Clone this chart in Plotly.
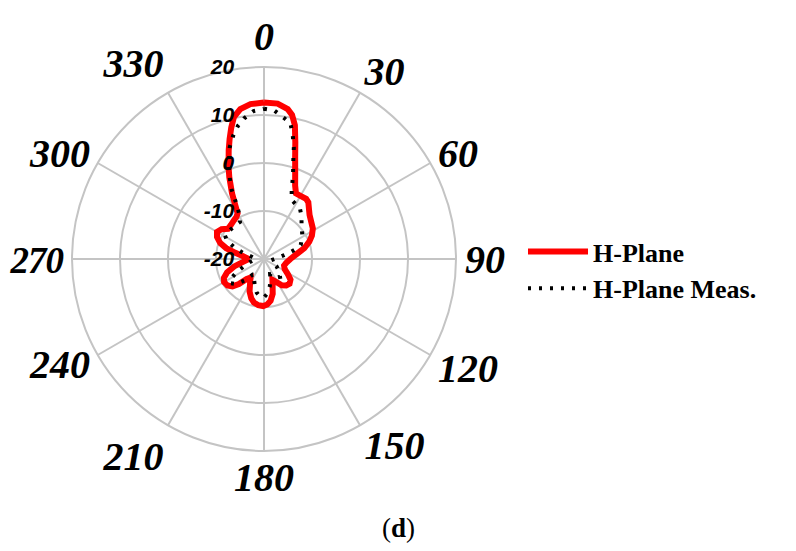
import plotly.graph_objects as go

# ---- data (dB vs angle in degrees, clockwise from top) ----
h_theta = [0, 5, 9, 11, 13, 15, 17, 20, 23, 26, 30, 35, 38, 42, 46, 52, 58, 64, 69, 75, 80,
           90, 100, 108, 116, 123, 128, 134, 140, 146, 152, 158, 162, 166, 171, 176, 181,
           187, 193, 198, 204, 210, 216, 221, 225, 229, 234, 240, 245, 250, 256, 262, 270,
           278, 283, 286, 290, 295, 300, 305, 310, 316, 322, 327, 330, 332, 334, 337, 339,
           342, 344, 346, 348, 351, 355, 360]
h_plane = [12.6, 12.5, 11.6, 10.6, 8.6, 5.2, 2.2, -1.0, -3.4, -4.8, -4.8, -4.7, -5.0, -6.0,
           -6.8, -7.5, -8.0, -8.9, -9.9, -11.3, -12.8, -14.5, -15.3, -15.6, -15.2, -14.0,
           -13.0, -12.6, -12.8, -13.4, -14.6, -15.3, -14.2, -12.5, -11.2, -10.5, -10.2,
           -10.3, -10.7, -11.4, -12.6, -14.2, -15.2, -14.5, -12.6, -11.3, -10.6, -10.4,
           -10.8, -11.8, -13.6, -15.6, -16.8, -15.5, -13.5, -11.8, -10.3, -9.2, -8.7,
           -9.2, -10.2, -10.1, -9.8, -9.5, -9.0, -7.2, -4.8, -1.5, 0.6, 3.8, 6.0, 8.2,
           10.2, 11.6, 12.4, 12.6]

m_theta = [0, 4, 8, 11, 13, 15, 17, 19, 22, 25, 30, 35, 41, 47, 53, 58, 63, 69, 73, 77, 81,
           90, 100, 110, 120, 130, 138, 145, 152, 158, 163, 168, 174, 180, 186, 192, 198,
           204, 210, 216, 222, 228, 234, 239, 244, 250, 258, 270, 280, 286, 291, 296, 301,
           308, 315, 322, 327, 330, 333, 335, 337, 339, 341, 343, 346, 349, 352, 356, 360]
h_meas = [11.3, 11.0, 9.7, 8.8, 6.6, 4.0, 0.8, -1.4, -4.6, -6.4, -6.8, -7.0, -8.1, -9.3,
          -10.1, -10.6, -11.2, -11.8, -13.2, -14.8, -16.3, -17.8, -18.5, -18.2, -17.0,
          -15.8, -15.0, -15.3, -16.4, -16.6, -15.4, -14.2, -12.8, -12.0, -12.1, -12.8,
          -13.9, -15.0, -16.2, -16.0, -14.0, -12.2, -11.4, -11.8, -13.6, -15.5, -17.0,
          -18.3, -17.5, -15.5, -13.5, -11.5, -10.5, -10.6, -10.8, -10.8, -10.8, -10.0,
          -7.8, -4.0, -1.8, 0.3, 2.3, 4.4, 6.5, 8.3, 9.6, 10.9, 11.3]

angle_ticks = list(range(0, 360, 30))
angle_labels = ["0", "30", "60", "90", "120", "150", "180", "210", "240", "270", "300", "330"]
r_ticks = [-20, -10, 0, 10, 20]
r_labels = ["-20", "-10", "0", "10", "20"]

W, H = 796, 551
OFF = 8  # page body margin of the browser shifts the figure by 8px
GRID = "#c4c4c4"

# small per-label styling tweaks (vertical nudge / size) for the angular tick text
label_style = {"120": "baseline-shift:10px", "150": "baseline-shift:16px",
               "180": "baseline-shift:9px", "210": "baseline-shift:5px",
               "240": "baseline-shift:14px", "330": "baseline-shift:8px",
               "270": "font-size:37px;letter-spacing:-1px"}
angle_text = [f"<span style='{label_style[t]}'>{t}</span>" if t in label_style else t
              for t in angle_labels]


def px_x(v):
    return (v - OFF) / W


def px_y(v):
    return 1 - (v - OFF) / H


fig = go.Figure()
fig.add_trace(go.Scatterpolar(
    r=h_plane, theta=h_theta, mode="lines", name="H-Plane",
    line=dict(color="#ff0000", width=6), legendgroup="a"))
fig.add_trace(go.Scatterpolar(
    r=h_meas, theta=m_theta, mode="lines", name="H-Plane Meas.",
    line=dict(color="#000000", width=4, dash="3px,8px"), legendgroup="b"))

fig.update_layout(
    width=W, height=H,
    margin=dict(l=0, r=0, t=0, b=0),
    paper_bgcolor="white",
    polar=dict(
        domain=dict(x=[px_x(72), px_x(456)], y=[px_y(451), px_y(67)]),
        bgcolor="white",
        angularaxis=dict(
            rotation=90, direction="clockwise",
            tickmode="array", tickvals=angle_ticks, ticktext=angle_text,
            tickfont=dict(family="Liberation Serif", size=40, style="italic",
                          weight="bold", color="black"),
            showgrid=True, gridcolor=GRID, gridwidth=1.5,
            showline=True, linecolor=GRID, linewidth=2,
            ticks=""),
        radialaxis=dict(
            range=[-20, 20], tickmode="array", tickvals=r_ticks, ticktext=r_labels,
            angle=90, side="counterclockwise", tickangle=90,
            tickfont=dict(family="Liberation Sans", size=21, style="italic",
                          weight="bold", color="black"),
            showgrid=True, gridcolor=GRID, gridwidth=1.5,
            showline=False, ticks="outside", ticklen=22,
            tickcolor="rgba(0,0,0,0)"),
    ),
    showlegend=True,
    legend=dict(
        x=px_x(523), y=px_y(228), xanchor="left", yanchor="top",
        font=dict(family="Liberation Serif", size=26, weight="bold", color="black"),
        bgcolor="rgba(0,0,0,0)", itemwidth=60, tracegroupgap=0),
    annotations=[dict(
        text="(<b>d</b>)", x=px_x(398), y=px_y(528), xref="paper", yref="paper",
        xanchor="center", yanchor="middle",
        showarrow=False, font=dict(family="Liberation Serif", size=27, color="black"))],
)

fig.write_html("out.html")
